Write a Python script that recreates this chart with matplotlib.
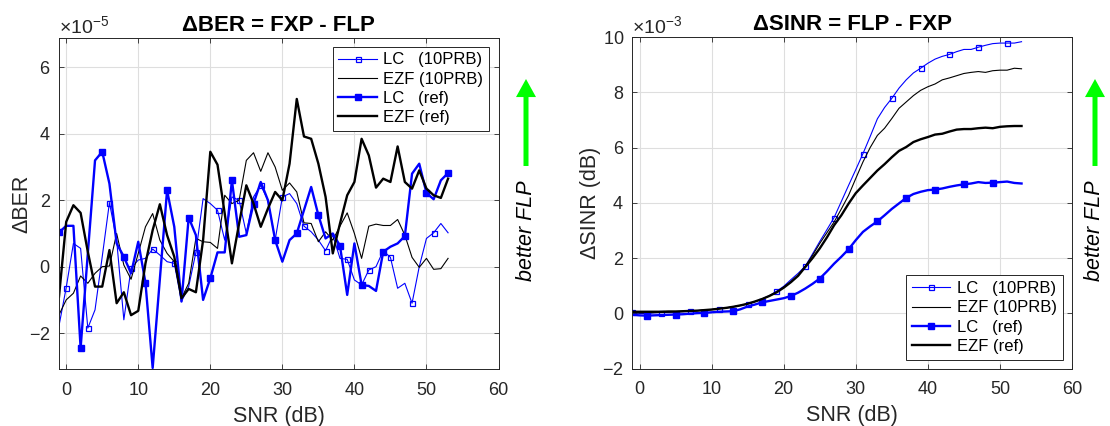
import numpy as np
import matplotlib
matplotlib.use("Agg")
import matplotlib.pyplot as plt
from matplotlib.patches import FancyArrowPatch, ArrowStyle
from matplotlib.ticker import ScalarFormatter

plt.rcParams['font.family'] = ['Liberation Sans', 'DejaVu Sans']
plt.rcParams['mathtext.fontset'] = 'custom'
plt.rcParams['mathtext.rm'] = 'Liberation Sans'
plt.rcParams['mathtext.it'] = 'Liberation Sans:italic'

# ---------------- data ----------------
snr = np.arange(-1, 54)  # SNR (dB) grid, -1 ... 53

BER_EXP = -5
ber_lc_10prb = [-1.78, -0.63, 0.70, 0.55, -1.85, -1.30, 0.30, 1.93, 0.80, -1.60,
                -0.05, 0.20, 0.25, 0.53, 0.35, 0.15, 0.10, -1.05, -0.60, 0.43,
                2.05, 1.90, 1.70, 0.80, 2.10, 2.00, 1.00, 2.10, 2.45, 2.00,
                0.80, 2.10, 2.20, 1.90, 1.22, 1.05, 0.80, 0.48, 0.95, 0.25,
                0.22, -0.40, -0.55, -0.10, 0.00, 0.48, 0.28, -0.65, -0.50, -1.10,
                0.00, 0.85, 1.02, 1.30, 1.02]
ber_ezf_10prb = [-1.45, -1.00, -0.80, -0.28, -0.50, -0.20, 0.00, 0.02, 1.00, 0.05,
                 -0.38, 0.40, 1.20, 1.60, 0.80, 0.40, 0.15, -0.95, -0.50, 0.85,
                 0.75, 0.73, 0.55, 2.15, 1.90, 2.00, 3.20, 3.43, 2.87, 3.43,
                 3.00, 2.30, 2.52, 2.25, 1.32, 1.30, 0.75, 1.05, 0.80, 1.22,
                 1.62, 1.00, 0.25, 1.22, 1.28, 1.24, 1.24, 1.42, 0.95, 0.28,
                 -0.02, 0.25, -0.08, -0.06, 0.25]
ber_lc_ref = [1.03, 1.23, 1.23, -2.45, 0.40, 3.20, 3.46, 2.50, 0.70, 0.30,
              -0.20, 0.75, -0.48, -3.05, -0.37, 2.30, 1.20, -1.05, 1.48, 0.95,
              -1.00, -0.35, 0.43, 0.43, 2.60, 0.90, 0.95, 1.90, 2.55, 2.00,
              0.80, 0.15, 0.80, 1.00, 1.70, 2.40, 1.55, 0.85, 1.00, 0.63,
              -0.85, 0.70, -0.55, -0.58, -0.73, 0.45, 0.60, 0.70, 0.92, 2.80,
              3.10, 2.22, 2.03, 2.60, 2.82]
ber_ezf_ref = [-0.90, 1.35, 1.85, 1.62, 0.45, -0.60, -0.60, 0.50, -1.10, -0.77,
               -1.46, -1.33, 0.10, 1.10, 1.88, 0.95, 0.30, -0.95, -0.67, -0.77,
               0.80, 3.46, 3.07, 1.60, 0.10, 1.30, 2.45, 1.90, 1.20, 1.75,
               2.25, 2.00, 3.10, 5.05, 3.92, 3.85, 3.10, 2.10, 0.40, 1.30,
               2.15, 2.55, 3.85, 3.35, 2.38, 2.65, 2.55, 3.62, 2.55, 2.35,
               2.90, 2.35, 2.15, 2.07, 2.65]

SINR_EXP = -3
sinr_lc_10prb = [0.05, 0.00, 0.00, 0.02, 0.03, 0.04, 0.05, 0.06, 0.08, 0.10,
                 0.12, 0.14, 0.17, 0.20, 0.24, 0.29, 0.34, 0.42, 0.52, 0.64,
                 0.80, 0.98, 1.22, 1.45, 1.71, 2.15, 2.60, 3.03, 3.47, 4.05,
                 4.63, 5.20, 5.78, 6.40, 7.04, 7.45, 7.78, 8.15, 8.45, 8.70,
                 8.87, 9.05, 9.20, 9.30, 9.37, 9.47, 9.55, 9.55, 9.63, 9.70,
                 9.76, 9.78, 9.78, 9.78, 9.83]
sinr_ezf_10prb = [0.02, 0.02, 0.02, 0.03, 0.04, 0.05, 0.06, 0.07, 0.08, 0.10,
                  0.12, 0.14, 0.17, 0.20, 0.24, 0.29, 0.35, 0.43, 0.52, 0.63,
                  0.77, 0.95, 1.15, 1.38, 1.71, 2.10, 2.53, 2.92, 3.31, 3.78,
                  4.27, 4.88, 5.48, 6.00, 6.44, 6.70, 7.05, 7.42, 7.65, 7.88,
                  8.07, 8.20, 8.30, 8.45, 8.52, 8.60, 8.68, 8.72, 8.75, 8.72,
                  8.78, 8.80, 8.80, 8.87, 8.85]
sinr_lc_ref = [-0.05, -0.07, -0.08, -0.07, -0.06, -0.05, -0.04, -0.03, -0.01, 0.01,
               0.02, 0.04, 0.06, 0.07, 0.08, 0.15, 0.25, 0.32, 0.40, 0.45,
               0.50, 0.55, 0.63, 0.75, 0.90, 1.07, 1.26, 1.52, 1.80, 2.05,
               2.32, 2.65, 2.95, 3.15, 3.33, 3.55, 3.78, 3.98, 4.18, 4.32,
               4.40, 4.46, 4.48, 4.52, 4.58, 4.63, 4.67, 4.70, 4.75, 4.72,
               4.73, 4.75, 4.77, 4.72, 4.70]
sinr_ezf_ref = [0.06, 0.06, 0.06, 0.06, 0.06, 0.07, 0.07, 0.08, 0.09, 0.10,
                0.12, 0.14, 0.17, 0.20, 0.24, 0.29, 0.35, 0.43, 0.52, 0.63,
                0.76, 0.93, 1.13, 1.36, 1.68, 2.00, 2.35, 2.75, 3.19, 3.55,
                3.97, 4.35, 4.63, 4.90, 5.17, 5.40, 5.65, 5.88, 6.02, 6.20,
                6.30, 6.38, 6.47, 6.50, 6.58, 6.65, 6.67, 6.67, 6.70, 6.72,
                6.70, 6.75, 6.77, 6.78, 6.78]

labels = ['LC   (10PRB)', 'EZF (10PRB)', 'LC   (ref)', 'EZF (ref)']
titles = ['\u0394BER = FXP - FLP', '\u0394SINR = FLP - FXP']
ylabels = ['\u0394BER', '\u0394SINR (dB)']
xlabel = 'SNR (dB)'
x_ticks = [0, 10, 20, 30, 40, 50, 60]
ber_yticks = [-2, 0, 2, 4, 6]
sinr_yticks = [-2, 0, 2, 4, 6, 8, 10]
side_text = 'better FLP'

# ---------------- style ----------------
W, H = 1110, 426
GRAY = '#262626'
fig = plt.figure(figsize=(W / 100, H / 100), dpi=100)

def px_box(x0, y0, x1, y1):
    return [x0 / W, 1 - y1 / H, (x1 - x0) / W, (y1 - y0) / H]

ax1 = fig.add_axes(px_box(59, 37.5, 498.5, 369.3))
ax2 = fig.add_axes(px_box(632.3, 37.0, 1072, 368.7))

def draw(ax, exp, lc10, ezf10, lcref, ezfref, mk10, mkref, ylim, yticks,
         title, ylabel, legloc, ylab_x):
    scale = 10.0 ** exp
    s = np.asarray
    h1, = ax.plot(snr, s(lc10) * scale, color='b', lw=0.8, marker='s', ms=3.6,
                  mfc='none', mec='b', mew=0.9, markevery=mk10)
    h2, = ax.plot(snr, s(ezf10) * scale, color='k', lw=0.8)
    h3, = ax.plot(snr, s(lcref) * scale, color='b', lw=1.7, marker='s', ms=4.2,
                  mfc='b', mec='b', markevery=mkref)
    h4, = ax.plot(snr, s(ezfref) * scale, color='k', lw=1.7)
    ax.set_xlim(-1, 60)
    ax.set_ylim(ylim[0] * scale, ylim[1] * scale)
    ax.set_xticks(x_ticks)
    ax.set_yticks([t * scale for t in yticks])
    fmt = ScalarFormatter(useMathText=True)
    fmt.set_powerlimits((exp, exp))
    ax.yaxis.set_major_formatter(fmt)
    ax.yaxis.get_offset_text().set_fontsize(14)
    ax.yaxis.get_offset_text().set_color(GRAY)
    ax.grid(True, color='#dedede', lw=0.8)
    ax.set_axisbelow(True)
    ax.tick_params(direction='in', length=3.5, width=0.6, top=True, right=True,
                   labelsize=13, color=GRAY, labelcolor=GRAY)
    ax.tick_params(axis='x', pad=9)
    ax.tick_params(axis='y', pad=6)
    for sp in ax.spines.values():
        sp.set_color(GRAY)
        sp.set_linewidth(0.7)
    ax.set_title(title, fontsize=16, fontweight='bold', pad=5)
    ax.set_xlabel(xlabel, fontsize=15.5, color=GRAY, labelpad=5)
    ax.set_ylabel(ylabel, fontsize=15.5, color=GRAY)
    ax.yaxis.set_label_coords(ylab_x, 0.5)
    leg = ax.legend([h1, h2, h3, h4], labels, loc=legloc, fontsize=12,
                    fancybox=False, framealpha=1, edgecolor=GRAY,
                    borderpad=0.35, labelspacing=0.25, handlelength=2.3,
                    handletextpad=0.4, borderaxespad=0.55)
    leg.get_frame().set_linewidth(0.7)

draw(ax1, BER_EXP, ber_lc_10prb, ber_ezf_10prb, ber_lc_ref, ber_ezf_ref,
     list(range(1, 55, 3)), list(range(0, 55, 3)), (-3.09, 6.9), ber_yticks,
     titles[0], ylabels[0], 'upper right', -0.06)
draw(ax2, SINR_EXP, sinr_lc_10prb, sinr_ezf_10prb, sinr_lc_ref, sinr_ezf_ref,
     list(range(0, 53, 4)), list(range(2, 51, 4)), (-2, 10), sinr_yticks,
     titles[1], ylabels[1], 'lower right', -0.071)

# green arrows + side text
for xc in (526.0, 1095.0):
    arr = FancyArrowPatch((xc / W, 1 - 166 / H), (xc / W, 1 - 79 / H),
                          transform=fig.transFigure,
                          arrowstyle=ArrowStyle('simple', head_length=13,
                                                head_width=14.4, tail_width=3.6),
                          mutation_scale=1, shrinkA=0, shrinkB=0,
                          color=(0.0, 1.0, 0.0), lw=0)
    fig.patches.append(arr)
    fig.text(xc / W, 1 - 231 / H, side_text, rotation=90, ha='center',
             va='center', fontsize=15.5, style='italic', color='k')

fig.savefig('out.png', dpi=100)
